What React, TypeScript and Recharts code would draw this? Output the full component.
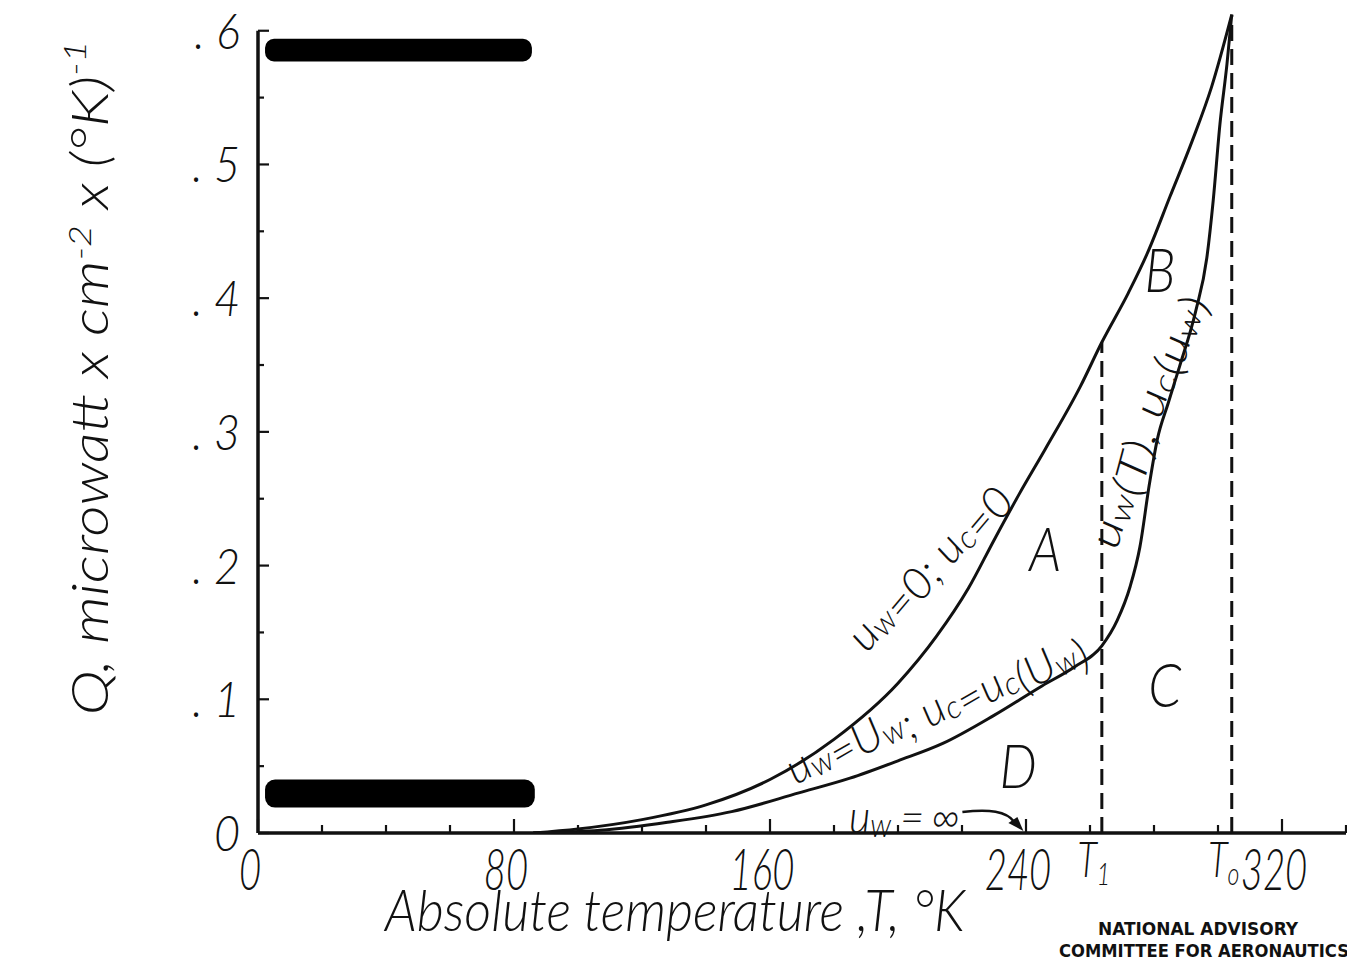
import React from "react";
import {
  LineChart,
  Line,
  XAxis,
  YAxis,
  ReferenceLine,
  ReferenceArea,
  ReferenceDot,
} from "recharts";

// curve "uw = 0; uc = 0" (upper)
const upperT = [86, 100, 120, 140, 160, 180, 200, 212, 222, 230, 238, 246, 257, 263.7, 272, 278, 285, 292, 298, 304.3];
const upperQ = [0, 0.003, 0.01, 0.021, 0.04, 0.07, 0.112, 0.147, 0.183, 0.219, 0.254, 0.287, 0.334, 0.367, 0.404, 0.434, 0.476, 0.518, 0.558, 0.612];

// curve "uw = Uw; uc = uc(Uw)" then "uw(T), uc(uw)" (lower)
const lowerT = [86, 107, 128, 148, 169, 185, 200, 214, 230, 245, 255, 263.7, 268.5, 272.5, 275.6, 278.5, 281, 284.5, 288, 293, 296.5, 298.5, 300.6, 302.8, 304.3];
const lowerQ = [0, 0.002, 0.008, 0.016, 0.03, 0.041, 0.054, 0.067, 0.088, 0.11, 0.124, 0.14, 0.159, 0.184, 0.214, 0.26, 0.294, 0.322, 0.349, 0.39, 0.43, 0.473, 0.53, 0.575, 0.612];

const T1 = 263.7;
const T1_TOP = 0.367;
const T0 = 304.3;
const T0_TOP = 0.612;

const xTicks = [0, 20, 40, 60, 80, 100, 120, 140, 160, 180, 200, 220, 240, 260, 280, 300, 320, 340];
const xLabelled = [0, 80, 160, 240, 320];
const yTicks = [0, 0.05, 0.1, 0.15, 0.2, 0.25, 0.3, 0.35, 0.4, 0.45, 0.5, 0.55, 0.6];
const yLabels: Record<string, string> = { "0": "0", "0.1": ". 1", "0.2": ". 2", "0.3": ". 3", "0.4": ". 4", "0.5": ". 5", "0.6": ". 6" };

const upperData = upperT.map((t, i) => ({ t, q: upperQ[i] }));
const lowerData = lowerT.map((t, i) => ({ t, q: lowerQ[i] }));

const HAND = "Lato, 'DejaVu Sans Condensed', sans-serif";
const INK = "#111";

function HandText({ x, y, size, rotate = 0, anchor = "middle", squeeze = 0.8, length, baseline, children }: any) {
  const sx = length ? 1 : squeeze;
  return (
    <text
      transform={`translate(${x},${y}) rotate(${rotate}) scale(${sx},1)`}
      fontSize={size}
      fontStyle="italic"
      fontWeight={300}
      fontFamily={HAND}
      textAnchor={anchor}
      dominantBaseline={baseline}
      fill={INK}
      textLength={length}
      lengthAdjust={length ? "spacingAndGlyphs" : undefined}
    >
      {children}
    </text>
  );
}

const Sub = ({ s, children }: any) => (
  <>
    <tspan fontSize={s * 0.72} dy={s * 0.2}>{children}</tspan>
    <tspan dy={-s * 0.2}></tspan>
  </>
);

const XTick = (props: any) => {
  const { x, y, payload } = props;
  const v = payload.value;
  if (v === T1 || v === T0) {
    return (
      <HandText x={x - 8} y={y + 44} size={50} squeeze={0.72}>
        T<tspan fontSize={32} dy={8}>{v === T1 ? "1" : "o"}</tspan>
      </HandText>
    );
  }
  const major = xLabelled.includes(v);
  return (
    <g>
      <line x1={x} x2={x} y1={y} y2={y - (major ? 14 : 8)} stroke={INK} strokeWidth={2.2} />
      {major && (
        <HandText x={x - 8} y={y + 57} size={58} squeeze={0.66}>
          {v}
        </HandText>
      )}
    </g>
  );
};

const YTick = (props: any) => {
  const { x, y, payload } = props;
  const v = Math.round(payload.value * 100) / 100;
  const label = yLabels[String(v)];
  return (
    <g>
      <line x1={x} x2={x + (label ? 11 : 6)} y1={y} y2={y} stroke={INK} strokeWidth={2.2} />
      {label && (
        <HandText x={x - 18} y={y + 18} size={50} anchor="end" squeeze={0.9}>
          {label}
        </HandText>
      )}
    </g>
  );
};

const note = (content: (cx: number, cy: number) => React.ReactNode) => (p: any) => <g>{content(p.cx, p.cy)}</g>;

export default function App() {
  return (
    <div style={{ margin: -8, width: 1355, height: 965, background: "#fff" }}>
      <LineChart width={1355} height={965} margin={{ top: 4, right: 9, bottom: 102, left: 198 }}>
        <XAxis
          type="number"
          dataKey="t"
          domain={[0, 340]}
          ticks={[...xTicks, T1, T0].sort((a, b) => a - b)}
          interval={0}
          tick={<XTick />}
          tickLine={false}
          tickSize={0}
          tickMargin={0}
          axisLine={{ stroke: INK, strokeWidth: 3.5 }}
          allowDataOverflow
        />
        <YAxis
          type="number"
          dataKey="q"
          domain={[0, 0.62]}
          ticks={yTicks}
          interval={0}
          tick={<YTick />}
          tickLine={false}
          tickSize={0}
          tickMargin={0}
          axisLine={false}
          width={60}
          allowDataOverflow
        />

        <ReferenceArea x1={2.2} x2={85.6} y1={0.577} y2={0.594} fill="#000" fillOpacity={1} stroke="none" radius={9} />
        <ReferenceArea x1={2.2} x2={86.5} y1={0.019} y2={0.04} fill="#000" fillOpacity={1} stroke="none" radius={10} />

        <ReferenceLine segment={[{ x: 0, y: 0 }, { x: 0, y: 0.6 }]} stroke={INK} strokeWidth={3.5} ifOverflow="visible" />
        <ReferenceLine segment={[{ x: T1, y: 0 }, { x: T1, y: T1_TOP }]} stroke={INK} strokeWidth={3} strokeDasharray="16 8" ifOverflow="visible" />
        <ReferenceLine segment={[{ x: T0, y: 0 }, { x: T0, y: T0_TOP }]} stroke={INK} strokeWidth={3} strokeDasharray="16 8" ifOverflow="visible" />

        <Line data={upperData} dataKey="q" type="monotone" stroke={INK} strokeWidth={3} dot={false} activeDot={false} isAnimationActive={false} />
        <Line data={lowerData} dataKey="q" type="monotone" stroke={INK} strokeWidth={3} dot={false} activeDot={false} isAnimationActive={false} />

        <ReferenceDot x={207.5} y={0.203} r={0} ifOverflow="visible" shape={note((cx, cy) => (
          <HandText x={cx} y={cy} size={44} rotate={-50} length={212} baseline="central">
            u<Sub s={44}>w</Sub>=0; u<Sub s={44}>c</Sub>=0
          </HandText>
        ))} />
        <ReferenceDot x={208.5} y={0.106} r={0} ifOverflow="visible" shape={note((cx, cy) => (
          <HandText x={cx} y={cy} size={44} rotate={-30} length={318} baseline="central">
            u<Sub s={44}>w</Sub>=U<Sub s={44}>w</Sub>; u<Sub s={44}>c</Sub>=u<Sub s={44}>c</Sub>(U<Sub s={44}>w</Sub>)
          </HandText>
        ))} />
        <ReferenceDot x={274.4} y={0.31} r={0} ifOverflow="visible" shape={note((cx, cy) => (
          <HandText x={cx} y={cy} size={42} rotate={-75} length={265} baseline="central">
            u<Sub s={42}>w</Sub>(T), u<Sub s={42}>c</Sub>(u<Sub s={42}>w</Sub>)
          </HandText>
        ))} />
        <ReferenceDot x={202} y={0.0135} r={0} ifOverflow="visible" shape={note((cx, cy) => (
          <g>
            <HandText x={cx} y={cy} size={46} baseline="central" squeeze={0.9}>
              u<tspan fontSize={33} dy={9}>w</tspan>
              <tspan dy={-9} dx={10}>=</tspan>
              <tspan dx={8}>∞</tspan>
            </HandText>
            <path d={`M ${cx + 58} ${cy - 3} C ${cx + 85} ${cy - 6}, ${cx + 102} ${cy - 4}, ${cx + 110} ${cy + 7}`} fill="none" stroke={INK} strokeWidth={2.5} />
            <polygon points={`${cx + 119} ${cy + 16},${cx + 104} ${cy + 8},${cx + 113} ${cy + 2}`} fill={INK} />
          </g>
        ))} />

        <ReferenceDot x={246} y={0.214} r={0} ifOverflow="visible" shape={note((cx, cy) => (
          <HandText x={cx} y={cy} size={62} squeeze={0.85} baseline="central">A</HandText>
        ))} />
        <ReferenceDot x={281.9} y={0.423} r={0} ifOverflow="visible" shape={note((cx, cy) => (
          <HandText x={cx} y={cy} size={62} squeeze={0.85} baseline="central">B</HandText>
        ))} />
        <ReferenceDot x={283.4} y={0.112} r={0} ifOverflow="visible" shape={note((cx, cy) => (
          <HandText x={cx} y={cy} size={62} squeeze={0.85} baseline="central">C</HandText>
        ))} />
        <ReferenceDot x={237.5} y={0.052} r={0} ifOverflow="visible" shape={note((cx, cy) => (
          <HandText x={cx} y={cy} size={62} squeeze={0.85} baseline="central">D</HandText>
        ))} />

        <HandText x={675} y={931} size={58} length={580}>
          Absolute  temperature ,T,  °K
        </HandText>
        <HandText x={108} y={378} size={52} rotate={-90} length={675}>
          Q, microwatt x cm<tspan fontSize={32} dy={-17}>-2</tspan>
          <tspan dy={17}> x (°K)</tspan>
          <tspan fontSize={32} dy={-22}>-1</tspan>
        </HandText>
        <text x={1198} y={935} fontSize={18} fontWeight="bold" fontFamily="'DejaVu Sans Condensed', sans-serif" textAnchor="middle" fill={INK} textLength={200} lengthAdjust="spacingAndGlyphs">
          NATIONAL ADVISORY
        </text>
        <text x={1204} y={957} fontSize={18} fontWeight="bold" fontFamily="'DejaVu Sans Condensed', sans-serif" textAnchor="middle" fill={INK} textLength={290} lengthAdjust="spacingAndGlyphs">
          COMMITTEE FOR AERONAUTICS
        </text>
      </LineChart>
    </div>
  );
}
